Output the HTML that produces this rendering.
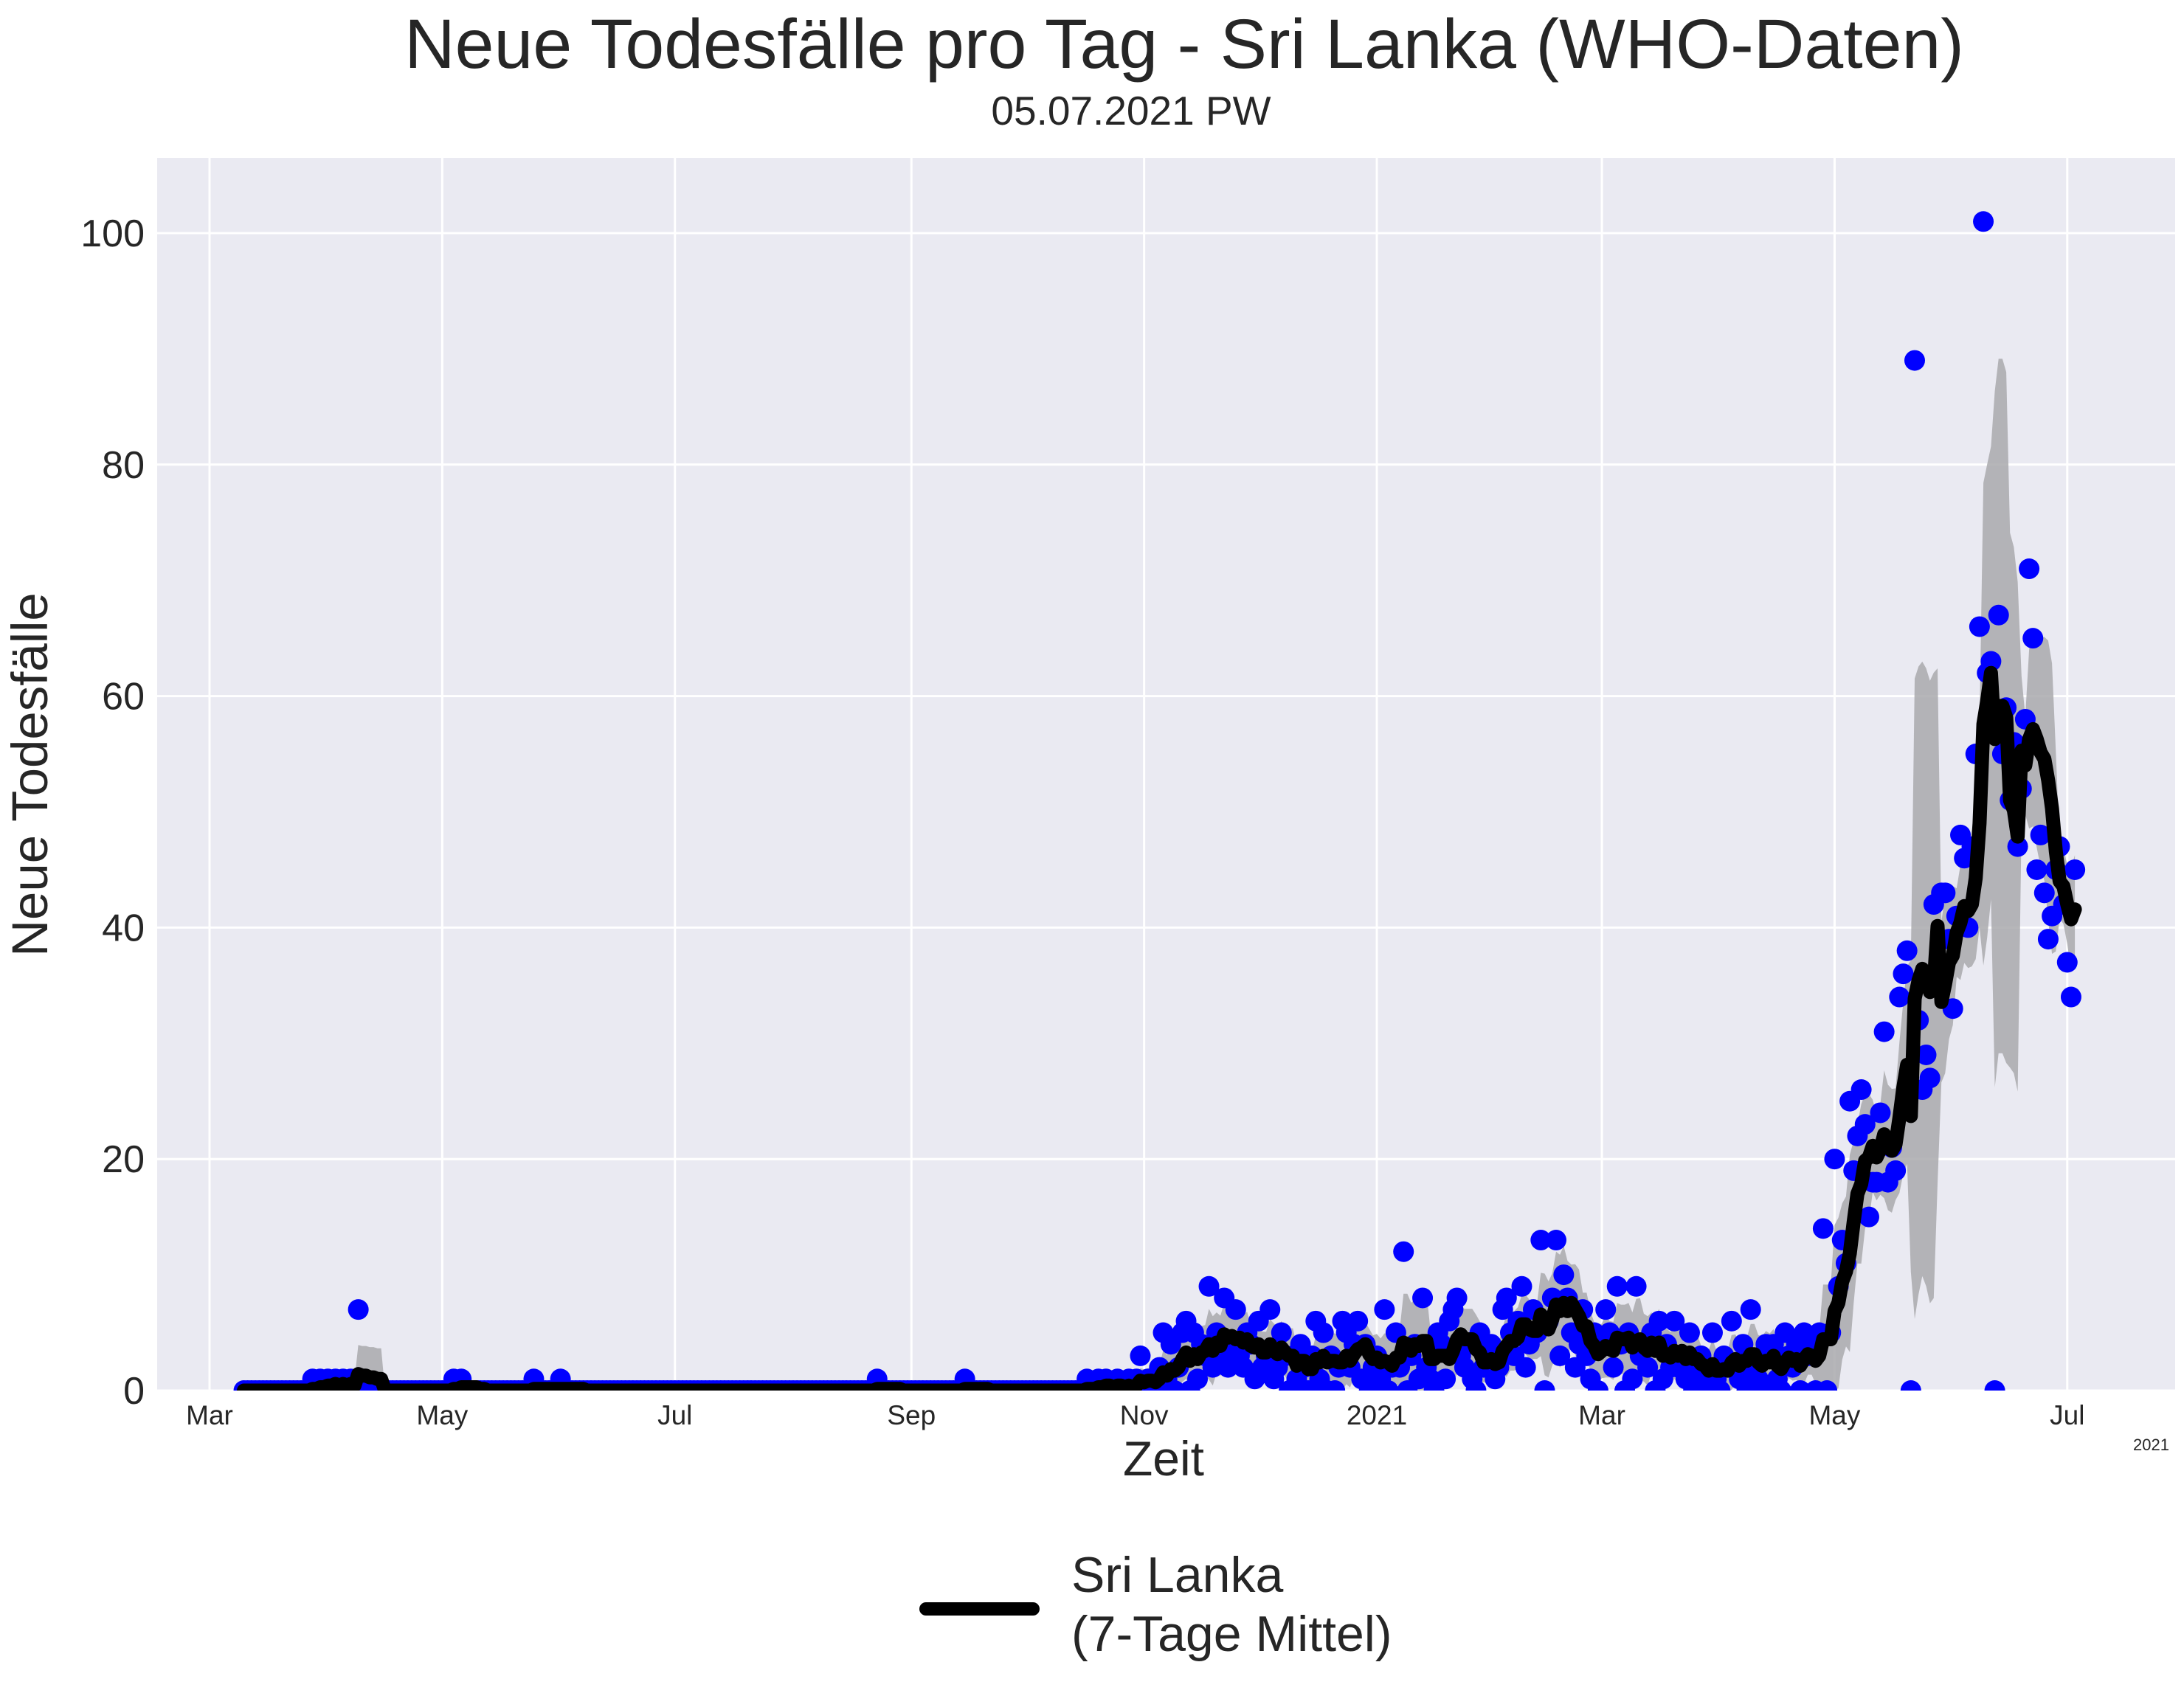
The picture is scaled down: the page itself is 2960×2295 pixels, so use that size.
<!DOCTYPE html>
<html><head><meta charset="utf-8">
<style>
html,body{margin:0;padding:0;background:#fff;}
svg{display:block;font-family:"Liberation Sans",sans-serif;}
</style></head>
<body>
<svg id="chart" width="2960" height="2295" viewBox="0 0 2960 2295" xmlns="http://www.w3.org/2000/svg">
<text x="1605" y="92" font-size="95" text-anchor="middle" fill="#262626">Neue Todesfälle pro Tag - Sri Lanka (WHO-Daten)</text>
<text x="1533" y="169" font-size="55" text-anchor="middle" fill="#262626">05.07.2021 PW</text>
<rect x="213" y="214" width="2735" height="1671" fill="#eaeaf2"/>
<defs><clipPath id="clip"><rect x="213" y="214" width="2735" height="1671"/></clipPath></defs>
<g id="grid"></g>
<g id="series" clip-path="url(#clip)"></g>
<g id="ticks"></g>
<text transform="translate(64,1050) rotate(-90)" font-size="69" text-anchor="middle" fill="#262626">Neue Todesfälle</text>
<text x="1577" y="2000" font-size="66" text-anchor="middle" fill="#262626">Zeit</text>
<text x="2940" y="1966" font-size="22" text-anchor="end" fill="#262626">2021</text>
<g>
<line x1="1255" y1="2181" x2="1400" y2="2181" stroke="#000" stroke-width="18" stroke-linecap="round"/>
<text x="1452" y="2158" font-size="68" fill="#262626">Sri Lanka</text>
<text x="1452" y="2238" font-size="68" fill="#262626">(7-Tage Mittel)</text>
</g>
</svg>
<script>
// Day offset (days since 2020-03-01) of the first value
const startDay = 9;
// Daily new deaths, one per day from 2020-03-10
const dailyDeaths = [
0,0,0,0,0,0,0,0,0,0,0,0,0,0,0,0,0,0,1,0,
1,0,1,0,1,0,1,0,1,0,7,0,0,0,0,0,0,0,0,0,
0,0,0,0,0,0,0,0,0,0,0,0,0,0,0,1,0,1,0,0,
0,0,0,0,0,0,0,0,0,0,0,0,0,0,0,0,1,0,0,0,
0,0,0,1,0,0,0,0,0,0,0,0,0,0,0,0,0,0,0,0,
0,0,0,0,0,0,0,0,0,0,0,0,0,0,0,0,0,0,0,0,
0,0,0,0,0,0,0,0,0,0,0,0,0,0,0,0,0,0,0,0,
0,0,0,0,0,0,0,0,0,0,0,0,0,0,0,0,0,0,0,0,
0,0,0,0,0,0,1,0,0,0,0,0,0,0,0,0,0,0,0,0,
0,0,0,0,0,0,0,0,0,1,0,0,0,0,0,0,0,0,0,0,
0,0,0,0,0,0,0,0,0,0,0,0,0,0,0,0,0,0,0,0,
0,1,0,0,1,
0,1,0,0,1,0,0,
1,0,1,3,0,1,0,
0,2,5,1,4,0,2,
5,6,0,5,1,4,3,
9,2,5,3,8,2,4,
7,3,2,5,4,1,6,
2,3,7,1,2,5,3,
0,3,1,4,2,0,3,
6,1,5,0,3,0,2,
6,5,2,4,6,1,4,
0,2,3,1,7,0,2,
5,2,12,0,3,4,1,
8,2,1,0,5,4,1,
6,7,8,3,2,4,1,
0,5,2,3,4,1,2,
7,8,5,3,6,9,2,
4,7,5,13,0,6,8,
13,3,10,8,5,2,4,
7,3,1,5,0,4,7,
5,2,9,4,0,5,1,
9,3,4,2,5,0,6,
1,4,2,6,2,3,1,
5,0,2,3,1,0,5,
1,0,3,2,6,2,1,
4,0,7,2,1,0,4,
3,4,1,0,5,3,2,
4,0,5,3,4,0,5,
14,0,5,20,9,13,11,25,19,22,26,23,15,18,18,24,31,18,21,19,34,36,38,0,89,
32,26,29,27,42,36,43,43,39,33,41,48,46,40,47,55,66,101,62,63,0,67,55,59,51,56,47,52,58,71,
65,45,48,43,39,41,45,47,42,37,34,45
];
// Y tick values
const yTicks = [0,20,40,60,80,100];
// X tick labels and their day offsets (days since 2020-03-01)
const xTickLabels = ["Mar","May","Jul","Sep","Nov","2021","Mar","May","Jul"];
const xTickDays = [0,61,122,184,245,306,365,426,487];

const NS = "http://www.w3.org/2000/svg";
const X0 = 284, PXDAY = 5.17;
const Y0 = 1885, PXUNIT = (1885-316)/100;
function xs(d){ return X0 + d*PXDAY; }
function ys(v){ return Y0 - v*PXUNIT; }
function mk(tag, attrs, parent){
  const e = document.createElementNS(NS, tag);
  for (const k in attrs) e.setAttribute(k, attrs[k]);
  parent.appendChild(e); return e;
}
const grid = document.getElementById('grid');
const ticks = document.getElementById('ticks');
const series = document.getElementById('series');

yTicks.forEach(v => {
  const l = mk('line', {x1:213, x2:2948, y1:ys(v), y2:ys(v), stroke:'#fff', 'stroke-width':3}, grid);
  
  
  const t = mk('text', {x:196, y:ys(v)+18, 'font-size':52, 'text-anchor':'end', fill:'#262626'}, ticks);
  t.textContent = v;
  
  
});
xTickDays.forEach((d, i) => {
  const l = mk('line', {x1:xs(d), x2:xs(d), y1:214, y2:1885, stroke:'#fff', 'stroke-width':3}, grid);
  
  
  const t = mk('text', {x:xs(d), y:1931, 'font-size':37, 'text-anchor':'middle', fill:'#262626'}, ticks);
  t.textContent = xTickLabels[i];
  
  
});

// rolling 7-day mean and sample std
const means = [], stds = [];
for (let i = 0; i < dailyDeaths.length; i++) {
  const w = dailyDeaths.slice(Math.max(0, i-6), i+1);
  const m = w.reduce((a,b)=>a+b,0)/w.length;
  let s = 0;
  if (w.length > 1) s = Math.sqrt(w.reduce((a,b)=>a+(b-m)*(b-m),0)/(w.length-1));
  means.push(m); stds.push(s);
}
// band
let up = [], dn = [];
for (let i = 0; i < means.length; i++) {
  const x = xs(startDay+i);
  up.push(x.toFixed(1)+','+ys(means[i]+stds[i]).toFixed(1));
  dn.unshift(x.toFixed(1)+','+ys(Math.max(0,means[i]-stds[i])).toFixed(1));
}
const band = mk('polygon', {points: up.concat(dn).join(' '), fill:'#a9a9ad', 'fill-opacity':0.85}, series);



// dots
dailyDeaths.forEach((v, i) => {
  const c = mk('circle', {cx:xs(startDay+i), cy:ys(v), r:14, fill:'#0000ff'}, series);
  
  
});

// mean line
const pts = means.map((m, i) => xs(startDay+i).toFixed(1)+','+ys(m).toFixed(1)).join(' ');
const line = mk('polyline', {points: pts, fill:'none', stroke:'#000', 'stroke-width':19, 'stroke-linejoin':'round', 'stroke-linecap':'round'}, series);


</script>
</body></html>
